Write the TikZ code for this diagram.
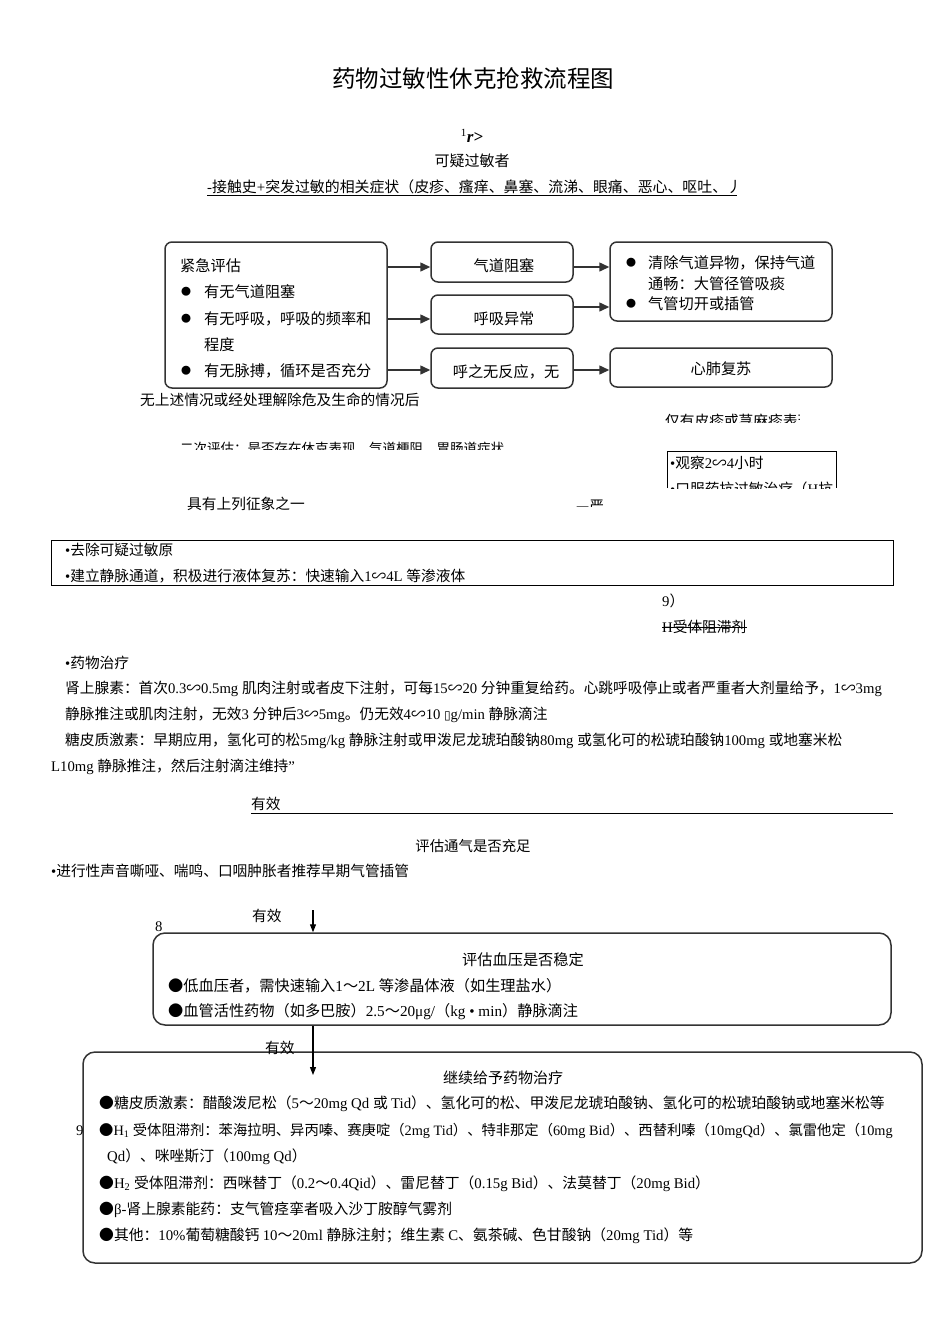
\documentclass[tikz,border=0pt]{standalone}
\usepackage{fontspec}
\usetikzlibrary{arrows.meta,calc}
\setmainfont{Liberation Serif}
\newfontfamily\cjk{Noto Sans CJK SC}
\newfontfamily\dejavu{DejaVu Sans}
\newcommand{\rmlat}{\rmfamily}
\XeTeXinterchartokenstate=1
\newcount\cc
\cc="2E80
\loop \XeTeXcharclass\cc=1 \advance\cc by 1 \ifnum\cc<"A000 \repeat
\cc="FF00
\loop \XeTeXcharclass\cc=1 \advance\cc by 1 \ifnum\cc<"FFF0 \repeat
\XeTeXcharclass"25CF=1
\XeTeXcharclass"223D=1
\XeTeXcharclass"2014=1
\XeTeXcharclass"25AF=2
\XeTeXinterchartoks 0 1 = {\cjk}
\XeTeXinterchartoks 4095 1 = {\cjk}
\XeTeXinterchartoks 2 1 = {\cjk}
\XeTeXinterchartoks 1 0 = {\rmlat}
\XeTeXinterchartoks 4095 0 = {\rmlat}
\definecolor{boxc}{HTML}{333333}
\begin{document}
\begin{tikzpicture}[x=1pt,y=-1pt,
  txt/.style={anchor=west,inner sep=0pt,font=\fontsize{15.2}{17}\selectfont},
  stxt/.style={anchor=west,inner sep=0pt,font=\fontsize{14.7}{16}\selectfont},
  btxt/.style={anchor=west,inner sep=0pt,font=\fontsize{14.8}{16}\selectfont},
  ctxt/.style={anchor=center,inner sep=0pt,font=\fontsize{15.2}{17}\selectfont},
  dot/.style={anchor=center,inner sep=0pt,font=\fontsize{10}{10}\selectfont},
  rbox/.style={draw=boxc,line width=1.5pt,rounded corners=7pt,inner sep=0pt},
  bigbox/.style={draw=boxc,line width=1.5pt,rounded corners=12pt,inner sep=0pt},
  arr/.style={line width=1.5pt,draw=boxc,-{Triangle[length=10pt,width=9pt]}},
  varr/.style={line width=1.2pt,draw=black,-{Triangle[length=8pt,width=6pt]}}]
\useasboundingbox (0,0) rectangle (950,1344);
\fill[white] (0,0) rectangle (950,1344);

% title
\node[anchor=center,inner sep=0pt,font=\fontsize{23.5}{26}\selectfont] (title) at (473,78) {药物过敏性休克抢救流程图};
\node[anchor=center,inner sep=0pt,font=\fontsize{17}{19}\selectfont] (rsym) at (472,136) {\textsuperscript{\fontsize{11}{12}\selectfont 1}\textbf{\textit{r>}}};
\node[ctxt,font=\fontsize{15}{17}\selectfont] (kyg) at (472,161) {可疑过敏者};
\node[stxt,font=\fontsize{14.9}{16}\selectfont] (jcs) at (207,187) {-接触史+突发过敏的相关症状（皮疹、瘙痒、鼻塞、流涕、眼痛、恶心、呕吐、丿};
\draw[line width=0.9pt] (207,195) -- (737,195);

% emergency evaluation
\node[rbox,minimum width=222pt,minimum height=146pt] (b1) at (276,315) {};
\node[txt] (b1t) at (180,266) {紧急评估};
\node[dot] (d1) at (186,292) {●};
\node[txt] (b1a) at (204,292) {有无气道阻塞};
\node[dot] (d2) at (186,319) {●};
\node[txt] (b1b) at (204,319) {有无呼吸，呼吸的频率和};
\node[txt] (b1c) at (204,345) {程度};
\node[dot] (d3) at (186,371) {●};
\node[txt] (b1d) at (204,371) {有无脉搏，循环是否充分};

\node[rbox,minimum width=142pt,minimum height=40pt] (qd) at (502,262) {};
\node[ctxt] (qdt) at (504,266) {气道阻塞};
\node[rbox,minimum width=142pt,minimum height=39pt] (hx) at (502,314.5) {};
\node[ctxt] (hxt) at (504,319) {呼吸异常};
\node[rbox,minimum width=142pt,minimum height=40pt] (hz) at (502,368) {};
\node[ctxt] (hzt) at (506,372) {呼之无反应，无};

\node[rbox,minimum width=222pt,minimum height=79pt] (rb) at (721,281.5) {};
\node[dot] (d4) at (631,263) {●};
\node[txt] (rba) at (648,263) {清除气道异物，保持气道};
\node[txt] (rbb) at (648,284) {通畅：大管径管吸痰};
\node[dot] (d5) at (631,304) {●};
\node[txt] (rbc) at (648,304) {气管切开或插管};
\node[rbox,minimum width=222pt,minimum height=39pt] (cpr) at (721,367.5) {};
\node[ctxt] (cprt) at (721,369) {心肺复苏};

\coordinate (y1) at (0,267);
\coordinate (y2) at (0,319);
\coordinate (y3) at (0,370);
\coordinate (y4) at (0,307);
\draw[arr] (b1.east |- y1) -- (qd.west |- y1);
\draw[arr] (b1.east |- y2) -- (hx.west |- y2);
\draw[arr] (b1.east |- y3) -- (hz.west |- y3);
\draw[arr] (qd.east |- y1) -- (rb.west |- y1);
\draw[arr] (hx.east |- y4) -- (rb.west |- y4);
\draw[arr] (hz.east |- y3) -- (cpr.west |- y3);

% second evaluation (partly clipped texts)
\node[stxt] (wss) at (140,400) {无上述情况或经处理解除危及生命的情况后};
\begin{scope}
\clip (600,405) rectangle (799,422);
\node[stxt] (jypz) at (665,421) {仅有皮疹或荨麻疹表现};
\end{scope}
\begin{scope}
\clip (150,435) rectangle (600,449.5);
\node[txt,font=\fontsize{13.5}{15}\selectfont] (ecpg) at (180,448) {二次评估：是否存在休克表现、气道梗阻、胃肠道症状};
\end{scope}
\draw[line width=0.8pt] (667,488) -- (667,451.5) -- (836,451.5) -- (836,488);
\node[stxt] (gc) at (670,463) {•观察2∽4小时};
\begin{scope}
\clip (660,478) rectangle (836,488);
\node[stxt] (kf) at (670,489) {•口服药抗过敏治疗（H抗};
\end{scope}
\node[stxt] (jy) at (187,504) {具有上列征象之一};
\begin{scope}
\clip (560,495) rectangle (603,506.5);
\node[stxt] (yz) at (576,505.5) {—严重};
\end{scope}

% treatment rectangle
\node[draw=black,line width=0.9pt,minimum width=842pt,minimum height=45pt,inner sep=0pt] (tr) at (472,562.5) {};
\node[stxt] (tra) at (65,550) {•去除可疑过敏原};
\node[stxt] (trb) at (65,576) {•建立静脉通道，积极进行液体复苏：快速输入1∽4L 等渗液体};
\node[stxt] (n9) at (662,601) {9）};
\node[stxt] (hst) at (662,627) {H受体阻滞剂};
\draw[line width=0.7pt] (hst.west) -- (hst.east);

\node[stxt] (ywzl) at (65,663) {•药物治疗};
\node[stxt] (l1) at (65,689) {肾上腺素：首次0.3∽0.5mg 肌肉注射或者皮下注射，可每15∽20 分钟重复给药。心跳呼吸停止或者严重者大剂量给予，1∽3mg};
\node[stxt] (l2) at (65,715) {静脉推注或肌肉注射，无效3 分钟后3∽5mg。仍无效4∽10 {\dejavu\fontsize{12}{13}\selectfont ▯}g/min 静脉滴注};
\node[stxt] (l3) at (65,741) {糖皮质激素：早期应用，氢化可的松5mg/kg 静脉注射或甲泼尼龙琥珀酸钠80mg 或氢化可的松琥珀酸钠100mg 或地塞米松};
\node[stxt] (l4) at (51,767) {L10mg 静脉推注，然后注射滴注维持"};

\node[stxt] (yx1) at (251,804) {有效};
\coordinate (ue) at (893,813);
\draw[line width=0.9pt] (yx1.west |- ue) -- (ue);
\node[ctxt,font=\fontsize{14.4}{16}\selectfont] (tq) at (473,846) {评估通气是否充足};
\node[stxt] (jxx) at (51,871) {•进行性声音嘶哑、喘鸣、口咽肿胀者推荐早期气管插管};

% blood pressure box
\node[stxt] (yx2) at (252,916) {有效};
\node[stxt] (n8) at (155,927) {8};
\node[bigbox,minimum width=738pt,minimum height=92pt] (bp) at (522,979) {};
\coordinate (a1) at (313,910);
\draw[varr] (a1) -- (a1 |- bp.north);
\node[ctxt,font=\fontsize{15.2}{17}\selectfont] (bpt) at (523,960) {评估血压是否稳定};
\node[btxt,font=\fontsize{15.2}{17}\selectfont] (bpa) at (168,986) {●低血压者，需快速输入1～2L 等渗晶体液（如生理盐水）};
\node[btxt,font=\fontsize{15.2}{17}\selectfont] (bpb) at (168,1012) {●血管活性药物（如多巴胺）2.5～20μg/（kg • min）静脉滴注};

% continued treatment box
\node[bigbox,minimum width=839pt,minimum height=211pt] (ct) at (502.5,1157.5) {};
\coordinate (a2) at (313,1075);
\draw[varr] (bp.south -| a2) -- (a2);
\node[stxt] (yx3) at (265,1048) {有效};
\node[stxt] (n9b) at (76,1131) {9};
\node[ctxt,font=\fontsize{15}{17}\selectfont] (ctt) at (503,1078) {继续给予药物治疗};
\node[btxt] (c1) at (99,1104) {●糖皮质激素：醋酸泼尼松（5～20mg Qd 或 Tid）、氢化可的松、甲泼尼龙琥珀酸钠、氢化可的松琥珀酸钠或地塞米松等};
\node[btxt,font=\fontsize{14.3}{16}\selectfont] (c2) at (99,1131) {●H\textsubscript{1} 受体阻滞剂：苯海拉明、异丙嗪、赛庚啶（2mg Tid）、特非那定（60mg Bid）、西替利嗪（10mgQd）、氯雷他定（10mg};
\node[btxt] (c3) at (107,1157) {Qd）、咪唑斯汀（100mg Qd）};
\node[btxt] (c4) at (99,1184) {●H\textsubscript{2} 受体阻滞剂：西咪替丁（0.2～0.4Qid）、雷尼替丁（0.15g Bid）、法莫替丁（20mg Bid）};
\node[btxt] (c5) at (99,1210) {●β-肾上腺素能药：支气管痉挛者吸入沙丁胺醇气雾剂};
\node[btxt] (c6) at (99,1236) {●其他：10\%葡萄糖酸钙 10～20ml 静脉注射；维生素 C、氨茶碱、色甘酸钠（20mg Tid）等};
\end{tikzpicture}
\end{document}
